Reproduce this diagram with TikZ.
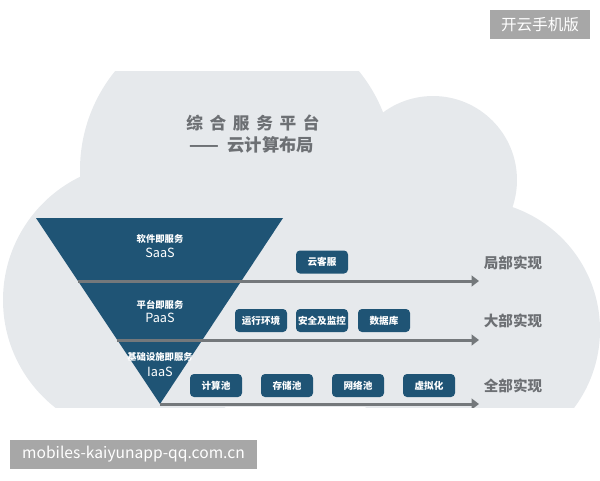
\documentclass[tikz,border=0pt]{standalone}
\usepackage{fontspec}
\setmainfont{Noto Sans CJK SC}
\usetikzlibrary{arrows.meta,positioning}
\definecolor{cloudgray}{HTML}{E6E9EC}
\definecolor{layerblue}{HTML}{1F5475}
\definecolor{arrowgray}{HTML}{74787B}
\definecolor{titlegray}{HTML}{6D7074}
\definecolor{markgray}{HTML}{A7A7A7}
\tikzset{
  svcbox/.style={fill=layerblue,rounded corners=3pt,minimum width=39pt,minimum height=17.25pt,
    inner sep=0pt,text=white,font=\fontsize{7.2}{8}\selectfont\bfseries},
  layertxt/.style={text=white,inner sep=0pt,font=\fontsize{7}{8}\selectfont\bfseries},
  layerabbr/.style={text=white,inner sep=0pt,font=\fontsize{9.5}{10}\selectfont},
  stagelab/.style={text=titlegray,inner sep=0pt,font=\fontsize{10.9}{12}\selectfont\bfseries},
  stagearrow/.style={arrowgray,line width=2.25pt,-{Triangle[length=5.5pt,width=8pt]}},
  markbox/.style={fill=markgray,text=white,inner sep=0pt,minimum height=21.75pt}
}

\begin{document}
\begin{tikzpicture}[x=0.75pt,y=-0.75pt]
  \useasboundingbox (0,0) rectangle (600,480);
  \begin{scope}
    \clip (0,71) rectangle (600,407);
    \fill[cloudgray] (237,170) circle (117.75pt);
    \fill[cloudgray] (433,180) circle (63pt);
    \fill[cloudgray] (140,300) circle (102.75pt);
    \fill[cloudgray] (470,330) circle (97.5pt);
    \fill[cloudgray] (80,200) rectangle (510,407);

    \node[text=titlegray,inner sep=0pt,font=\fontsize{12.5}{14}\selectfont\bfseries] (title) at (253,123)
      {综\hspace{.4em}合\hspace{.4em}服\hspace{.4em}务\hspace{.4em}平\hspace{.4em}台};
    \node[text=titlegray,inner sep=0pt,font=\fontsize{13}{15}\selectfont\bfseries] (subtitle) at (252,145)
      {——\hspace{.45em}云计算布局};

    \coordinate (tl) at (36,218);
    \coordinate (tr) at (283,218);
    \coordinate (apex) at (160,404);
    \fill[layerblue] (tl) -- (tr) -- (apex) -- cycle;

    \foreach \i/\y/\xs in {1/281/78,2/340/117,3/404/160} {
      \coordinate (s\i) at (\xs,\y);
      \coordinate (e\i) at (479,\y);
      \draw[stagearrow] (s\i) -- (e\i);
    }

    \node[layertxt] (saascn) at (160,239) {软件即服务};
    \node[layerabbr] (saas) at (160,253) {SaaS};
    \node[layertxt] (paascn) at (160,305) {平台即服务};
    \node[layerabbr] (paas) at (160,318) {PaaS};
    \node[layertxt] (iaascn) at (160,357) {基础设施即服务};
    \node[layerabbr] (iaas) at (160,372) {IaaS};

    \node[svcbox] (kefu) at (322,262) {云客服};
    \foreach \name/\x/\lab in {runenv/261/运行环境,secmon/322/安全及监控,db/384/数据库}
      \node[svcbox] (\name) at (\x,320.5) {\lab};
    \foreach \name/\x/\lab in {compute/216/计算池,storage/287/存储池,network/358/网络池,virt/429/虚拟化}
      \node[svcbox] (\name) at (\x,385.5) {\lab};

    \node[stagelab] (partial) at (513,263) {局部实现};
    \node[stagelab] (most) at (513,321) {大部实现};
    \node[stagelab] (full) at (513,386) {全部实现};
  \end{scope}

  \node[markbox,minimum width=75pt,font=\fontsize{11.7}{13}\selectfont] (appmark) at (540,24.5) {开云手机版};
  \node[markbox,minimum width=185.25pt,font=\fontsize{11.7}{13}\selectfont] (sitemark) at (133.5,454.5)
    {mobiles-kaiyunapp-qq.com.cn};
\end{tikzpicture}
\end{document}
